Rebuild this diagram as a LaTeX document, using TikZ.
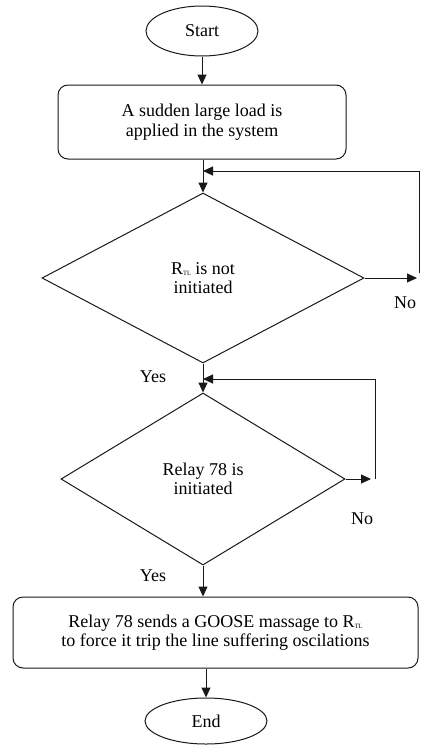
\documentclass[tikz,border=0pt]{standalone}
\usepackage{fontspec}
\newfontfamily\tmsfont{Liberation Serif}
\usetikzlibrary{shapes.geometric,arrows.meta}
\newcommand{\rtl}{R\raisebox{-1.5pt}{\fontsize{6.5}{6.5}\selectfont TL}}
\begin{document}
\begin{tikzpicture}[x=1pt,y=-1pt,
  every node/.style={font=\tmsfont\fontsize{18}{19.5}\selectfont},
  line/.style={line width=1pt,draw=black!90},
  arr/.style={line, -{Triangle[length=10pt,width=9pt]}},
  term/.style={line, ellipse, inner sep=0pt},
  procbox/.style={line, rounded corners=10pt, align=center, inner sep=0pt},
  decis/.style={line, diamond, inner sep=0pt, align=center},
  lbl/.style={inner sep=0pt}]
\useasboundingbox (0,0) rectangle (425,747);
\node[term, minimum width=112pt, minimum height=50pt] (start) at (202,31) {Start};
\node[procbox, minimum width=288pt, minimum height=74pt] (b1) at (202,122)
  {A sudden large load is\\applied in the system};
\node[decis, minimum width=322pt, minimum height=170pt] (d1) at (203,278)
  {\rtl{} is not\\initiated};
\node[decis, minimum width=284pt, minimum height=172pt] (d2) at (203,479)
  {Relay 78 is\\initiated};
\node[procbox, minimum width=405pt, minimum height=71pt] (b2) at (215.5,632.5)
  {Relay 78 sends a GOOSE massage to \rtl\\to force it trip the line suffering oscilations};
\node[term, minimum width=122pt, minimum height=46pt] (end) at (206,721) {End};
% labels
\node[lbl] (no1) at (405,303) {No};
\node[lbl] (no2) at (362,519) {No};
\node[lbl] (yes1) at (153,377) {Yes};
\node[lbl] (yes2) at (153,576) {Yes};
% coordinates
\coordinate (n1) at (417,278);
\coordinate (n1u) at (419,273);
\coordinate (j1) at (203,171);
\coordinate (n2) at (371,479);
\coordinate (n2u) at (375,479);
\coordinate (j2) at (203,379);
% connectors
\draw[arr] (start.south) -- (start.south |- b1.north);
\draw[arr] (d1.north |- b1.south) -- (d1.north);
\draw[arr] (d1.east) -- (n1);
\draw[arr] (n1u) |- (j1);
\draw[arr] (d1.south) -- (d2.north);
\draw[arr] (d2.east) -- (n2);
\draw[arr] (n2u) |- (j2);
\draw[arr] (d2.south) -- (d2.south |- b2.north);
\draw[arr] (end.north |- b2.south) -- (end.north);
\end{tikzpicture}
\end{document}
